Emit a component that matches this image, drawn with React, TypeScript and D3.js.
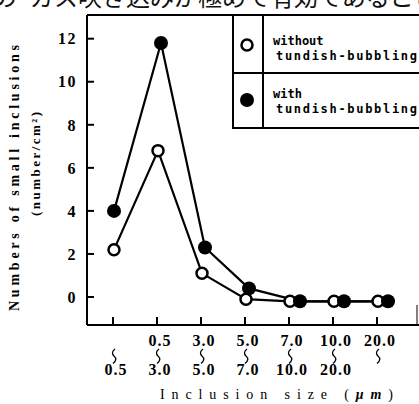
import React from 'react';
import * as d3 from 'd3';

// size classes (µm): lower bound / upper bound, '' where open-ended
const sizeFrom = ['', '0.5', '3.0', '5.0', '7.0', '10.0', '20.0'];
const sizeTo = ['0.5', '3.0', '5.0', '7.0', '10.0', '20.0', ''];
const withoutBubbling = [2.2, 6.8, 1.1, -0.1, -0.2, -0.2, -0.2];
const withBubbling = [4.0, 11.8, 2.3, 0.4, -0.2, -0.2, -0.2];
const yTicks = [0, 2, 4, 6, 8, 10, 12];

const W = 419;
const H = 404;
const left = 87;
const top = 15;
const bottom = 325;

const serif = '"Liberation Serif", "DejaVu Serif", serif';
const mono = '"DejaVu Sans Mono", "Liberation Mono", monospace';

export default function App() {
  const x = d3.scaleLinear().domain([0, sizeFrom.length - 1]).range([114, 378]);
  const y = d3.scaleLinear().domain([-1.3, 13.1]).range([bottom, top]);

  // filled markers are nudged right where they would sit on the open ones
  const shift = (i: number) => (Math.abs(withBubbling[i] - withoutBubbling[i]) < 0.5 ? 10 : 3);

  const openPts = withoutBubbling.map((v, i) => [x(i), y(v)] as [number, number]);
  const fillPts = withBubbling.map((v, i) => [x(i) + (i === 0 ? 0 : shift(i)), y(v)] as [number, number]);
  const line = d3.line();

  // the vertical wavy dash between the two bounds of a class
  const wave = (cx: number) => `M${cx + 1},349 q-4.5,3.5 -1,7 q4,3.5 -1,7.5`;

  return (
    <svg width={W} height={H} style={{ position: 'absolute', left: 0, top: 0, background: '#fff' }}>
      {/* running text of the page, cut off at the top */}
      <g fontFamily='"Noto Sans CJK JP", sans-serif' fontSize={24} fill="#111">
        <text x={-7} y={6}>の</text>
        <text x={30} y={6}>ガス吹き込みが極めて有効であること</text>
      </g>

      {/* frame */}
      <g stroke="#000" strokeWidth={2} fill="none">
        <line x1={left} y1={top} x2={W} y2={top} />
        <line x1={left} y1={top} x2={left} y2={bottom} />
        <line x1={left} y1={bottom} x2={W} y2={bottom} />
        <line x1={417} y1={305} x2={417} y2={bottom} strokeWidth={1} />
      </g>

      {/* y ticks */}
      {yTicks.map(t => (
        <g key={t}>
          <line x1={left} x2={left + 7} y1={y(t)} y2={y(t)} stroke="#000" strokeWidth={2} />
          <text x={77} y={y(t)} dy="0.36em" textAnchor="end" fontFamily={serif} fontWeight="bold"
            fontSize={16} letterSpacing={1.5}>{t}</text>
        </g>
      ))}

      {/* x ticks and size class labels */}
      {sizeFrom.map((s, i) => (
        <g key={i} fontFamily={serif} fontWeight="bold" fontSize={16}>
          <line x1={x(i) - 1} x2={x(i) - 1} y1={bottom} y2={bottom - 8} stroke="#000" strokeWidth={2} />
          {s && <text x={x(i) + 2} y={346} textAnchor="middle" letterSpacing={1}>{s}</text>}
          <path d={wave(x(i))} fill="none" stroke="#000" strokeWidth={1.3} />
          {sizeTo[i] && <text x={x(i) + 2} y={375} textAnchor="middle" letterSpacing={1}>{sizeTo[i]}</text>}
        </g>
      ))}

      <text x={160} y={399} fontFamily={serif} fontSize={14} textLength={233} lengthAdjust="spacing">
        Inclusion size (<tspan fontStyle="italic" fontWeight="bold">μm</tspan>)
      </text>

      {/* y title */}
      <text transform="translate(19,178) rotate(-90)" textAnchor="middle" fontFamily={serif}
        fontWeight="bold" fontSize={14} textLength={266} lengthAdjust="spacing">
        Numbers of small inclusions
      </text>
      <text transform="translate(40,164) rotate(-90)" textAnchor="middle" fontFamily={serif}
        fontWeight="bold" fontSize={13} textLength={104} lengthAdjust="spacing">
        (number/cm²)
      </text>

      {/* series lines */}
      <path d={line(openPts) || ''} fill="none" stroke="#000" strokeWidth={2.2} />
      <path d={line(fillPts) || ''} fill="none" stroke="#000" strokeWidth={2.2} />

      {openPts.map((p, i) => (
        <circle key={'o' + i} cx={p[0]} cy={p[1]} r={5.5} fill="#fff" stroke="#000" strokeWidth={2.5} />
      ))}
      {fillPts.map((p, i) => (
        <circle key={'f' + i} cx={p[0]} cy={p[1]} r={7} fill="#000" />
      ))}

      {/* legend */}
      <g stroke="#000" strokeWidth={2} fill="none">
        <rect x={233} y={top} width={W - 233 + 5} height={128 - top} fill="#fff" />
        <line x1={263} x2={263} y1={top} y2={128} />
        <line x1={233} x2={W} y1={73} y2={73} />
      </g>
      <circle cx={247} cy={45} r={5.5} fill="#fff" stroke="#000" strokeWidth={2.5} />
      <circle cx={247} cy={100} r={7} fill="#000" />
      <g fontFamily={mono} fontWeight="bold" fontSize={12} fill="#000">
        <text x={273} y={45}>without</text>
        <text x={276} y={60} textLength={141} lengthAdjust="spacing">tundish-bubbling</text>
        <text x={273} y={98}>with</text>
        <text x={276} y={113} textLength={141} lengthAdjust="spacing">tundish-bubbling</text>
      </g>
    </svg>
  );
}
